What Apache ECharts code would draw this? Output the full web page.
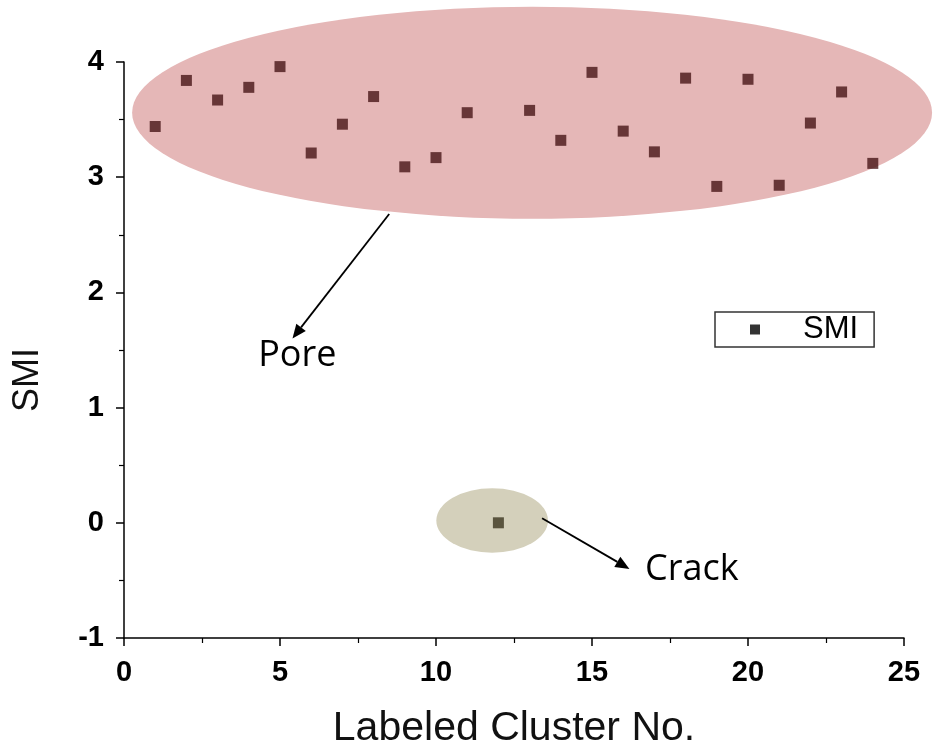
<!DOCTYPE html>
<html><head><meta charset="utf-8">
<script src="https://cdn.jsdelivr.net/npm/echarts@6/dist/echarts.min.js"></script>
<style>html,body{margin:0;padding:0;background:#fff}#c{width:935px;height:753px}</style>
</head><body><div id="c"></div>
<script>
const clusterNo = [1,2,3,4,5,6,7,8,9,10,11,12,13,14,15,16,17,18,19,20,21,22,23,24];
const smi = [3.44,3.84,3.67,3.78,3.96,3.21,3.46,3.70,3.09,3.17,3.56,0.00,3.58,3.32,3.91,3.40,3.22,3.86,2.92,3.85,2.93,3.47,3.74,3.12];
const xTicks = [0,5,10,15,20,25];
const yTicks = [-1,0,1,2,3,4];
// annotations in data coordinates: [cx, cy, rx, ry]
const poreEllipse = [13.08, 3.56, 12.82, 0.92];
const crackEllipse = [11.8, 0.02, 1.79, 0.28];
const poreArrow = [[8.5, 2.68], [5.4, 1.6]];
const crackArrow = [[13.4, 0.04], [16.2, -0.4]];
const poreLabel = [4.3, 1.45, 'Pore'];
const crackLabel = [16.7, -0.41, 'Crack'];

const chart = echarts.init(document.getElementById('c'));
const axisFont = {fontFamily:'Liberation Sans, Arial', fontWeight:'bold', fontSize:29, color:'#000'};
const option = {
  animation:false,
  grid:{left:124, right:31, top:62, bottom:115, containLabel:false, outerBoundsMode:'none'},
  xAxis:{type:'value', min:0, max:25, interval:5,
    name:'Labeled Cluster No.', nameLocation:'middle', nameGap:70,
    nameTextStyle:{fontFamily:'Liberation Sans, Arial', fontSize:41, color:'#111'},
    axisLine:{show:true, onZero:false, lineStyle:{color:'#000', width:1.5}},
    axisTick:{show:true, inside:false, length:8, lineStyle:{color:'#000', width:1.5}},
    minorTick:{show:true, splitNumber:2, length:5, lineStyle:{color:'#000', width:1.2}},
    splitLine:{show:false},
    axisLabel:Object.assign({margin:20, formatter:v=>xTicks.includes(v)?String(v):''}, axisFont)
  },
  yAxis:{type:'value', min:-1, max:4, interval:1,
    name:'SMI', nameLocation:'middle', nameGap:78, nameRotate:90,
    nameTextStyle:{fontFamily:'Liberation Sans, Arial', fontSize:36, color:'#111', padding:[0,60,0,0]},
    axisLine:{show:true, onZero:false, lineStyle:{color:'#000', width:1.5}},
    axisTick:{show:true, inside:false, length:8, lineStyle:{color:'#000', width:1.5}},
    minorTick:{show:true, splitNumber:2, length:5, lineStyle:{color:'#000', width:1.2}},
    splitLine:{show:false},
    axisLabel:Object.assign({margin:20, formatter:v=>yTicks.includes(v)?String(v):''}, axisFont)
  },
  legend:{show:true, left:715, top:312, orient:'horizontal',
    icon:'rect', itemWidth:10, itemHeight:10,
    borderColor:'#333', borderWidth:1.5, borderRadius:0,
    padding:[2,16,2,35],
    textStyle:{fontFamily:'Liberation Sans, Arial', fontSize:31, color:'#000', padding:[0,0,0,38]},
    data:[{name:'SMI', itemStyle:{color:'#000'}}]
  },
  series:[{
    name:'SMI', type:'scatter', symbol:'rect', symbolSize:11, z:5,
    itemStyle:{color:'#471517'},
    data: clusterNo.map((x,i)=>({value:[x, smi[i]], itemStyle: smi[i] < 1 ? {color:'#3b351f'} : undefined}))
  }]
};
chart.setOption(option);

function px(p){ return chart.convertToPixel({gridIndex:0}, p); }
function ellipse(e, color){
  const c = px([e[0], e[1]]);
  const r = px([e[0]+e[2], e[1]+e[3]]);
  return {type:'circle', x:c[0], y:c[1], scaleX:Math.abs(r[0]-c[0]), scaleY:Math.abs(r[1]-c[1]),
    shape:{cx:0, cy:0, r:1}, style:{fill:color}, z:-10, silent:true};
}
function arrow(a){
  const p0 = px(a[0]), p1 = px(a[1]);
  const ang = Math.atan2(p1[1]-p0[1], p1[0]-p0[0]);
  const L = 14, W = 6;
  const bx = p1[0]-L*Math.cos(ang), by = p1[1]-L*Math.sin(ang);
  const nx = -Math.sin(ang)*W, ny = Math.cos(ang)*W;
  return [
    {type:'line', shape:{x1:p0[0], y1:p0[1], x2:bx, y2:by}, style:{stroke:'#000', lineWidth:1.8}, z:10},
    {type:'polygon', shape:{points:[[p1[0],p1[1]],[bx+nx,by+ny],[bx-nx,by-ny]]}, style:{fill:'#000'}, z:10}
  ];
}
function label(l){
  const p = px([l[0], l[1]]);
  return {type:'text', x:p[0], y:p[1], style:{text:l[2], font:'36px "Open Sans", sans-serif', fill:'#000', textAlign:'left', textVerticalAlign:'middle'}, z:10};
}
chart.setOption({graphic:[
  ellipse(poreEllipse, '#e5b7b7'),
  ellipse(crackEllipse, '#d4d0bb'),
  ...arrow(poreArrow), ...arrow(crackArrow),
  label(poreLabel), label(crackLabel)
]});
</script></body></html>
